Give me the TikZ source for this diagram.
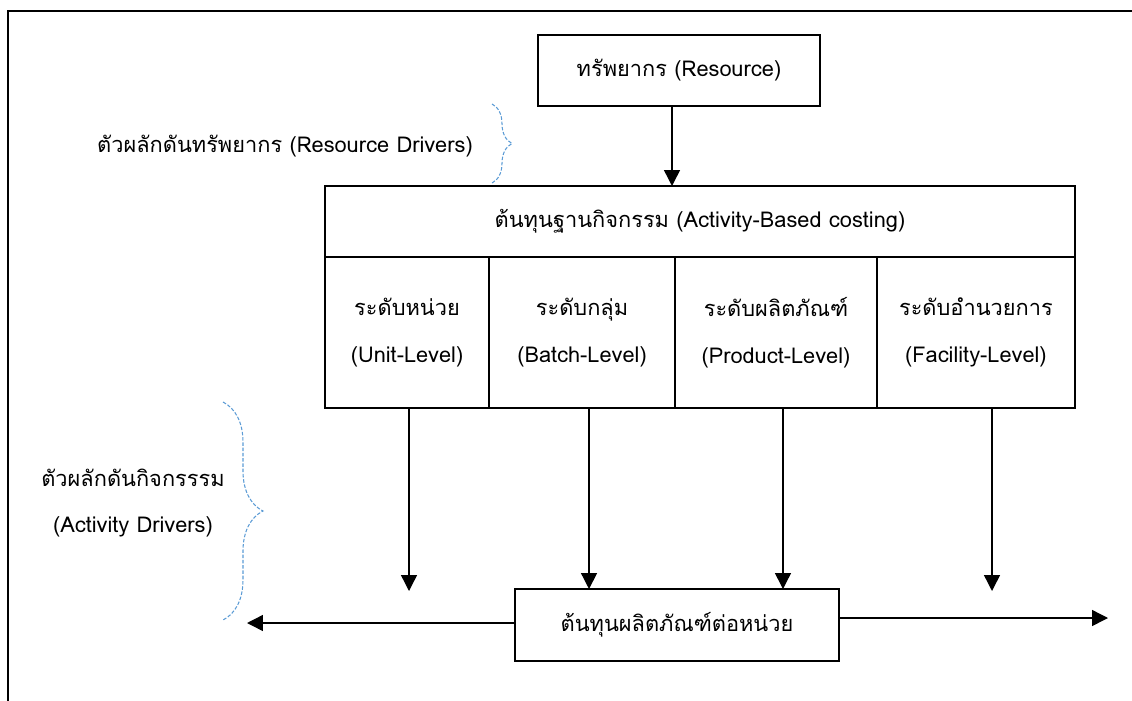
\documentclass[tikz,border=0pt]{standalone}
\usepackage{fontspec}
\setmainfont[Script=Thai]{Loma}
\usetikzlibrary{arrows.meta,decorations.pathreplacing,positioning}
\definecolor{bracecol}{HTML}{5B9BD5}
\begin{document}
\begin{tikzpicture}[x=0.02cm, y=-0.02cm,
    box/.style = {draw, line width=1.5pt, outer sep=0pt, inner sep=0pt, minimum height=1.42cm, font=\fontsize{12.4}{15}\selectfont},
    lvl/.style = {box, minimum height=3.02cm, align=center, font=\fontsize{12.4}{26.5}\selectfont},
    txt/.style = {font=\fontsize{12.4}{26.5}\selectfont, align=center},
    arr/.style = {-{Triangle[length=9pt,width=9pt]}, line width=0.8pt},
    brc/.style = {draw=bracecol, line width=0.6pt, dash pattern=on 2pt off 1pt, decorate}]
        \useasboundingbox (0,0) rectangle (1132,700);
        \draw[line width=1.6pt] (8,11) rectangle (1200,760);
        %
        \node[box, minimum width=5.64cm] (res) at (679,70.5) {ทรัพยากร (Resource)};
        \node[box, minimum width=15cm] (abc) at (700,221.5) {ต้นทุนฐานกิจกรรม (Activity-Based costing)};
        \node[lvl, minimum width=3.28cm, anchor=north west] (unit) at (abc.south west) {ระดับหน่วย\\(Unit-Level)};
        \node[lvl, minimum width=3.72cm, right=0pt of unit] (batch) {ระดับกลุ่ม\\(Batch-Level)};
        \node[lvl, minimum width=4.04cm, right=0pt of batch] (prod) {ระดับผลิตภัณฑ์\\(Product-Level)};
        \node[lvl, minimum width=3.96cm, right=0pt of prod] (fac) {ระดับอำนวยการ\\(Facility-Level)};
        \node[box, minimum width=6.48cm, minimum height=1.44cm] (sum) at (677,625) {ต้นทุนผลิตภัณฑ์ต่อหน่วย};
        %
        \node[txt] (rdrv) at (285,146) {ตัวผลักดันทรัพยากร (Resource Drivers)};
        \node[txt] (adrv) at (133,503) {ตัวผลักดันกิจกรรรม\\(Activity Drivers)};
        %
        \coordinate (uend) at (409,591);
        \coordinate (fend) at (992,591);
        \coordinate (lend) at (247,623);
        \coordinate (rend) at (1108,618);
        %
        \draw[arr] ([xshift=-0.14cm]res.south) -- ([xshift=-0.14cm]res.south |- abc.north);
        \draw[arr] (unit.south -| uend) -- (uend);
        \draw[arr] ([xshift=0.14cm]batch.south) -- ([xshift=0.14cm]batch.south |- sum.north);
        \draw[arr] ([xshift=0.14cm]prod.south) -- ([xshift=0.14cm]prod.south |- sum.north);
        \draw[arr] (fac.south -| fend) -- (fend);
        \draw[arr] (sum.west |- lend) -- (lend);
        \draw[arr] (sum.east |- rend) -- (rend);
        %
        \draw[brc, decoration={brace, amplitude=0.4cm}] (492,104) -- (492,183);
        \draw[brc, decoration={brace, amplitude=0.8cm}] (223,402) -- (223,620);
      \end{tikzpicture}
\end{document}
